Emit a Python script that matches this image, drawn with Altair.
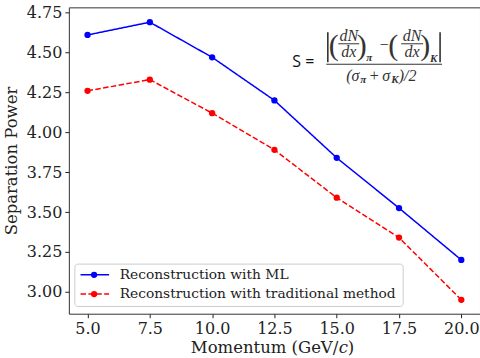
import altair as alt
import pandas as pd

# ---- data ----
momentum = [5.0, 7.5, 10.0, 12.5, 15.0, 17.5, 20.0]
sep_ml = [4.61, 4.69, 4.47, 4.20, 3.84, 3.525, 3.20]
sep_trad = [4.26, 4.33, 4.12, 3.89, 3.59, 3.34, 2.95]
series_names = ["Reconstruction with ML", "Reconstruction with traditional method"]
series_colors = ["#0000ff", "#ff0000"]
series_dashes = [[1, 0], [5.5, 2.4]]
x_ticks = [5.0, 7.5, 10.0, 12.5, 15.0, 17.5, 20.0]
y_ticks = [3.0, 3.25, 3.5, 3.75, 4.0, 4.25, 4.5, 4.75]

rows = []
for m, a, b in zip(momentum, sep_ml, sep_trad):
    rows.append({"p": m, "s": a, "series": series_names[0]})
    rows.append({"p": m, "s": b, "series": series_names[1]})
df = pd.DataFrame(rows)

W, H = 412, 307
xscale = alt.Scale(domain=[4.25, 20.75], nice=False, zero=False)
yscale = alt.Scale(domain=[2.863, 4.783], nice=False, zero=False)
cscale = alt.Scale(domain=series_names, range=series_colors)
dscale = alt.Scale(domain=series_names, range=series_dashes)

FONT = "DejaVu Serif"
TXT = "#222222"

x_enc = alt.X("p:Q", scale=xscale, axis=alt.Axis(values=x_ticks, format=".1f", title=None))
y_enc = alt.Y("s:Q", scale=yscale, axis=alt.Axis(
    values=y_ticks, format=".2f", title="Separation Power",
    titleX=-57, titleY=H / 2, titleAngle=270, titleBaseline="middle", titleAlign="center"))

lines = alt.Chart(df).mark_line(strokeWidth=1.5, clip=True).encode(
    x=x_enc, y=y_enc,
    color=alt.Color("series:N", scale=cscale, legend=None),
    strokeDash=alt.StrokeDash("series:N", scale=dscale, legend=None),
    detail="series:N",
)
points = alt.Chart(df).mark_circle(size=40, opacity=1).encode(
    x="p:Q", y="s:Q",
    color=alt.Color("series:N", scale=cscale, legend=None),
)

# x-axis title with italic c
xt = pd.DataFrame({"t": ["Momentum (GeV/"]})
xt1 = alt.Chart(xt).mark_text(font=FONT, fontSize=16.5, color=TXT, align="right",
                              baseline="alphabetic").encode(
    x=alt.value(270), y=alt.value(346), text="t:N")
xt2 = alt.Chart(pd.DataFrame({"t": ["c"]})).mark_text(
    font=FONT, fontStyle="italic", fontSize=16.5, color=TXT, align="left",
    baseline="alphabetic").encode(x=alt.value(270.5), y=alt.value(346), text="t:N")
xt3 = alt.Chart(pd.DataFrame({"t": [")"]})).mark_text(
    font=FONT, fontSize=16.5, color=TXT, align="left",
    baseline="alphabetic").encode(x=alt.value(279.5), y=alt.value(346), text="t:N")

# ---- legend (manual, matplotlib style) ----
leg = pd.DataFrame({
    "series": series_names,
    "ly": [268.0, 287.3],
})
box = alt.Chart(pd.DataFrame({"a": [0]})).mark_rect(
    fill="white", fillOpacity=0.85, stroke="#cccccc", strokeWidth=1, cornerRadius=3
).encode(x=alt.value(6), x2=alt.value(335), y=alt.value(257.3), y2=alt.value(299.7))
leg_lines = alt.Chart(leg).mark_rule(strokeWidth=1.5).encode(
    x=alt.value(11.7), x2=alt.value(40.3),
    y=alt.Y("ly:Q", scale=None),
    color=alt.Color("series:N", scale=cscale, legend=None),
    strokeDash=alt.StrokeDash("series:N", scale=dscale, legend=None),
)
leg_pts = alt.Chart(leg).mark_circle(size=40, opacity=1).encode(
    x=alt.value(25.3), y=alt.Y("ly:Q", scale=None),
    color=alt.Color("series:N", scale=cscale, legend=None),
)
leg_txt = alt.Chart(leg).mark_text(
    align="left", baseline="middle", font=FONT, fontSize=13.8, color=TXT
).encode(x=alt.value(51), y=alt.Y("ly:Q", scale=None), text="series:N")

# ---- formula annotation ----
f_italic = pd.DataFrame({
    "t": ["dN", "dx", "dN", "dx", "(σ", "σ", ")/2"],
    "fx": [280.5, 280.5, 344.0, 344.0, 278.0, 314.0, 330.5],
    "fy": [29.0, 45.0, 29.0, 45.0, 69.0, 69.0, 69.0],
    "al": ["c", "c", "c", "c", "l", "l", "l"],
})
f_sub = pd.DataFrame({
    "t": ["π", "K", "π", "K"],
    "fx": [298.0, 362.0, 292.0, 323.0],
    "fy": [51.0, 52.0, 73.0, 73.0],
})
f_par = pd.DataFrame({
    "t": ["(", ")", "(", ")"],
    "fx": [265.5, 293.5, 325.0, 357.0],
    "fy": [39.0, 39.0, 39.0, 39.0],
})
f_rules = pd.DataFrame({
    "x1": [270.0, 333.0, 258.0, 259.5, 372.0],
    "x2": [291.0, 355.0, 374.0, 259.5, 372.0],
    "y1": [36.5, 36.5, 57.0, 25.0, 25.0],
    "y2": [36.5, 36.5, 57.0, 55.0, 55.0],
    "w": [1.0, 1.0, 1.2, 1.6, 1.6],
})
FC = "#333333"
fx = lambda f: alt.X(f"{f}:Q", scale=None)
fy = lambda f: alt.Y(f"{f}:Q", scale=None)

bg = alt.Chart(pd.DataFrame({"a": [0]})).mark_rect(fill="white").encode(
    x=alt.value(218), x2=alt.value(380), y=alt.value(20), y2=alt.value(82))
t_sans = alt.Chart(pd.DataFrame({"t": ["S ="]})).mark_text(
    font="Open Sans", fontSize=16, color="#111", align="center", baseline="middle"
).encode(x=alt.value(235), y=alt.value(55), text="t:N")
t_it_c = alt.Chart(f_italic[f_italic.al == "c"]).mark_text(
    font="Liberation Serif", fontStyle="italic", fontSize=16, color=FC,
    align="center", baseline="middle").encode(x=fx("fx"), y=fy("fy"), text="t:N")
t_it_l = alt.Chart(f_italic[f_italic.al == "l"]).mark_text(
    font="Liberation Serif", fontStyle="italic", fontSize=16, color=FC,
    align="left", baseline="middle").encode(x=fx("fx"), y=fy("fy"), text="t:N")
t_plus = alt.Chart(pd.DataFrame({"t": ["+", "−"], "fx": [306.0, 316.0], "fy": [69.0, 38.0]})).mark_text(
    font="Liberation Serif", fontSize=16, color=FC, align="center", baseline="middle"
).encode(x=fx("fx"), y=fy("fy"), text="t:N")
t_sub = alt.Chart(f_sub).mark_text(
    font="Liberation Serif", fontStyle="italic", fontWeight="bold", fontSize=11, color=FC,
    align="left", baseline="middle").encode(x=fx("fx"), y=fy("fy"), text="t:N")
t_par = alt.Chart(f_par).mark_text(
    font="Liberation Serif", fontSize=30, color=FC, align="center", baseline="middle"
).encode(x=fx("fx"), y=fy("fy"), text="t:N")
r_f = alt.Chart(f_rules).mark_rule(color=FC).encode(
    x=fx("x1"), x2="x2:Q", y=fy("y1"), y2="y2:Q",
    strokeWidth=alt.StrokeWidth("w:Q", scale=None))

chart = alt.layer(
    lines, points, xt1, xt2, xt3, bg, t_sans, t_it_c, t_it_l, t_plus, t_sub, t_par, r_f,
    box, leg_lines, leg_pts, leg_txt
).properties(
    width=W, height=H,
    autosize=alt.AutoSizeParams(type="none"),
    padding={"left": 69, "top": 7, "right": 0, "bottom": 44},
    background="white",
).configure_view(
    stroke="#333333", strokeWidth=1
).configure_axis(
    domain=False, grid=False,
    labelFont=FONT, labelFontSize=16, labelColor=TXT,
    titleFont=FONT, titleFontSize=16.5, titleColor=TXT, titleFontWeight="normal",
    tickColor=TXT, tickSize=4, tickWidth=1,
    labelPadding=3,
)

chart.save("out.html", embed_options={"renderer": "svg", "actions": False})
